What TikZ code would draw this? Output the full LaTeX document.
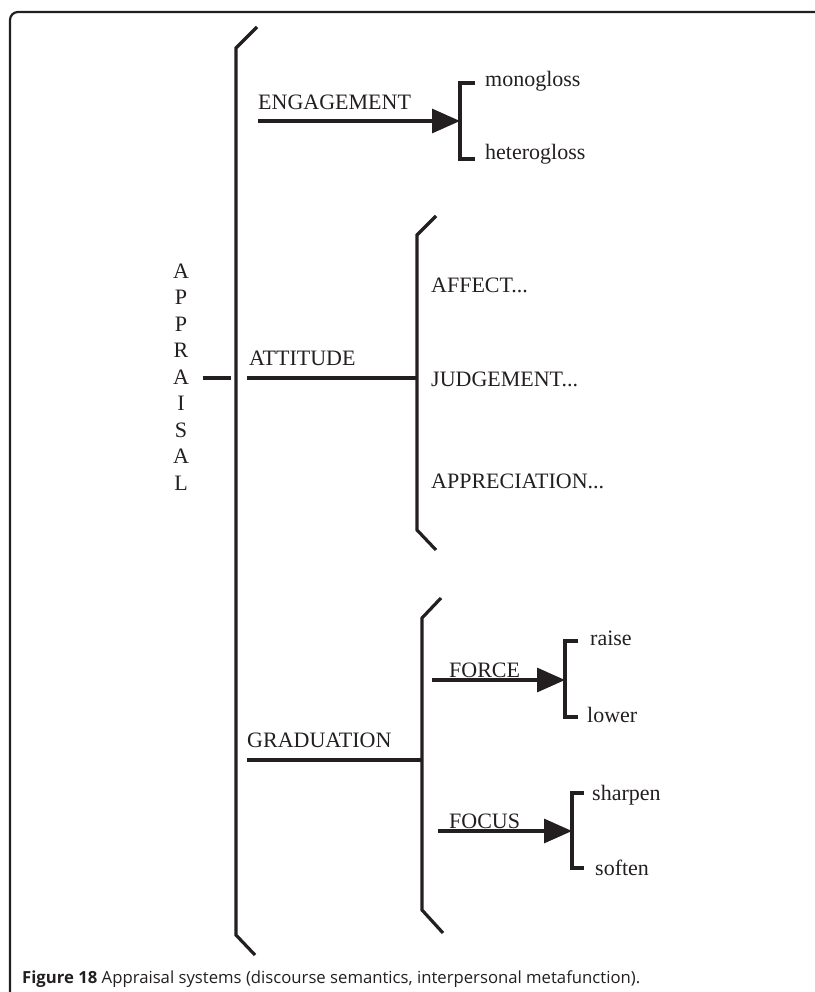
\documentclass[tikz,border=0pt]{standalone}
\usepackage{fontspec}
\setmainfont{Liberation Serif}
\newfontfamily\capfont{Open Sans}
\usetikzlibrary{arrows.meta}
\definecolor{ink}{HTML}{231F20}
\tikzset{
  lbl/.style={anchor=base west, inner sep=0pt, font=\fontsize{22}{24}\selectfont, text=ink},
  ltr/.style={anchor=base, inner sep=0pt, font=\fontsize{22}{24}\selectfont, text=ink},
  ln/.style={line width=3.2pt, draw=ink},
  brk/.style={line width=3.2pt, draw=ink, line join=miter},
  arr/.style={ln, -{Triangle[length=28pt,width=24pt]}},
}
\begin{document}
\begin{tikzpicture}[x=1pt,y=-1pt]
\useasboundingbox (0,0) rectangle (814,992);
% frame
\draw[line width=2.2pt, draw=ink, rounded corners=8pt] (10,1005) -- (10,12) -- (830,12);

% APPRAISAL (vertical)
\foreach \l [count=\i] in {A,P,P,R,A,I,S,A,L}
  \node[ltr] (ap\i) at (181,{278+26.5*(\i-1)}) {\l};
\coordinate (aps) at (203,378);
\coordinate (ape) at (231,378);
\draw[ln] (aps) -- (ape);

% main bracket
\coordinate (m1) at (257,27);
\coordinate (m2) at (236,48);
\coordinate (m3) at (236,935);
\coordinate (m4) at (255,955);
\draw[brk] (m1) -- (m2) -- (m3) -- (m4);

% ENGAGEMENT
\node[lbl] (eng) at (258,110) {ENGAGEMENT};
\coordinate (engs) at (258,121);
\coordinate (engb) at (460,121);
\draw[arr] (engs) -- (engb);
\draw[brk] (475,83) -- (460,83) -- (460,159) -- (475,159);
\node[lbl] (mono) at (485,87) {monogloss};
\node[lbl] (hetero) at (485,160) {heterogloss};

% ATTITUDE
\node[lbl] (att) at (249,365) {ATTITUDE};
\coordinate (atts) at (247,378);
\coordinate (atte) at (417,378);
\draw[ln] (atts) -- (atte);
\draw[brk] (436,216) -- (417,235) -- (417,530) -- (436,550);
\node[lbl] (aff) at (431,292) {AFFECT...};
\node[lbl] (jud) at (431,386) {JUDGEMENT...};
\node[lbl] (app) at (431,488) {APPRECIATION...};

% GRADUATION
\node[lbl] (grad) at (247,747) {GRADUATION};
\coordinate (grads) at (247,760);
\coordinate (grade) at (422,760);
\draw[ln] (grads) -- (grade);
\draw[brk] (441,598) -- (422,618) -- (422,910) -- (443,933);

% FORCE
\node[lbl] (force) at (449,677) {FORCE};
\coordinate (fors) at (432,680);
\coordinate (fore) at (565,680);
\draw[arr] (fors) -- (fore);
\draw[brk] (578,641) -- (565,641) -- (565,717) -- (578,717);
\node[lbl] (raise) at (590,645) {raise};
\node[lbl] (lower) at (587,722) {lower};

% FOCUS
\node[lbl] (focus) at (449,828) {FOCUS};
\coordinate (focs) at (438,831);
\coordinate (foce) at (572,831);
\draw[arr] (focs) -- (foce);
\draw[brk] (584,793) -- (572,793) -- (572,868) -- (584,868);
\node[lbl] (sharpen) at (592,800) {sharpen};
\node[lbl] (soften) at (595,875) {soften};

% caption
\node[anchor=base west, inner sep=0pt, text=ink, font=\capfont\fontsize{17}{19}\selectfont] (cap) at (22,983)
  {\resizebox{618pt}{!}{\textbf{Figure 18} Appraisal systems (discourse semantics, interpersonal metafunction).}};
\end{tikzpicture}
\end{document}
